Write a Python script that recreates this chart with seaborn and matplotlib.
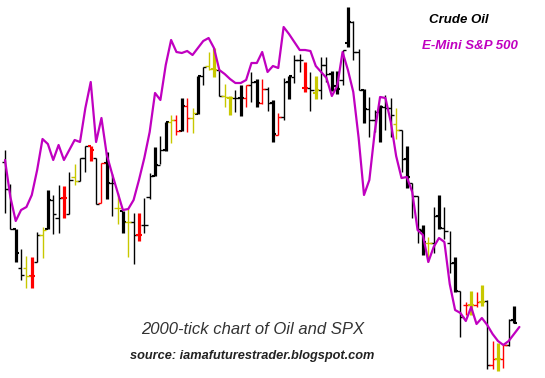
import numpy as np
import pandas as pd
import matplotlib
matplotlib.use("Agg")
import matplotlib.pyplot as plt
import seaborn as sns

# crude oil 2000-tick bars (chart level units, higher = up)
oil_high = [230, 196, 151, 131, 124, 123, 148, 153, 190, 185,
            195, 194, 208, 216, 222, 234, 234, 222, 217, 228,
            206, 187, 169, 171, 167, 167, 182, 207, 233, 244,
            258, 265, 265, 282, 282, 272, 304, 313, 328, 332,
            310, 296, 284, 290, 295, 295, 308, 301, 301, 293,
            280, 267, 302, 304, 325, 326, 318, 308, 304, 323,
            323, 309, 309, 330, 373, 359, 331, 291, 283, 270,
            275, 285, 282, 272, 250, 234, 197, 184, 155, 143,
            173, 185, 173, 149, 123, 89, 78, 89, 88, 95,
            80, 39, 37, 35, 61, 74]
oil_low = [167, 151, 118, 100, 92, 92, 118, 122, 151, 146,
           147, 162, 166, 195, 199, 208, 219, 176, 177, 181,
           164, 156, 147, 123, 116, 139, 147, 181, 204, 216,
           229, 237, 245, 249, 248, 247, 266, 295, 310, 303,
           284, 273, 265, 268, 264, 273, 278, 273, 276, 269,
           238, 245, 260, 281, 297, 308, 288, 269, 281, 281,
           298, 289, 286, 295, 333, 320, 290, 257, 243, 248,
           238, 250, 243, 241, 208, 192, 162, 137, 125, 118,
           127, 151, 141, 107, 88, 43, 65, 65, 73, 74,
           11, 11, 9, 12, 34, 57]
oil_open = [218, 191, 151, 112, 112, 104, 118, 145, 151, 180,
            162, 182, 166, 203, 199, 222, 234, 222, 177, 217,
            197, 172, 169, 158, 158, 145, 155, 183, 204, 215,
            230, 258, 260, 249, 274, 262, 266, 304, 314, 311,
            310, 284, 282, 282, 282, 282, 295, 298, 277, 291,
            277, 245, 263, 298, 303, 320, 292, 292, 287, 290,
            315, 306, 294, 300, 337, 358, 328, 290, 271, 260,
            268, 273, 272, 256, 250, 221, 197, 184, 149, 137,
            137, 164, 152, 137, 117, 89, 75, 75, 75, 78,
            79, 15, 21, 21, 35, 60]
oil_close = [191, 151, 127, 105, 104, 104, 145, 150, 180, 166,
             182, 182, 200, 199, 222, 234, 230, 176, 217, 197,
             197, 172, 158, 158, 145, 145, 155, 204, 215, 230,
             258, 260, 249, 274, 262, 267, 304, 313, 311, 310,
             284, 283, 282, 282, 282, 295, 298, 277, 291, 277,
             246, 263, 298, 304, 320, 320, 292, 290, 290, 315,
             306, 294, 291, 330, 358, 328, 290, 271, 260, 268,
             273, 272, 265, 250, 221, 203, 184, 151, 138, 137,
             164, 152, 149, 117, 89, 63, 75, 75, 78, 78,
             15, 21, 21, 35, 60, 57]
oil_colour = list("KKKKYRKYKK" "KRKYKKRKRK" "KYKYKRKKKK" "KYRKRYKKYY"
                  "KYYKKRKKRK" "KRKKKKRKYK" "KKKKKKKKKK" "KKKYKKKKKY"
                  "KKKKKKRYRY" "KRYRKK")
oil_heavy = [0, 0, 1, 0, 0, 1, 0, 0, 1, 0,
             0, 1, 0, 0, 0, 0, 1, 0, 0, 1,
             0, 0, 1, 0, 0, 1, 0, 0, 1, 0,
             1, 0, 0, 1, 0, 0, 1, 0, 0, 1,
             0, 0, 1, 0, 1, 0, 0, 1, 0, 0,
             1, 0, 0, 1, 0, 0, 1, 0, 1, 0,
             0, 1, 1, 0, 1, 0, 0, 1, 0, 0,
             1, 0, 0, 0, 0, 1, 0, 0, 1, 0,
             0, 1, 0, 0, 1, 0, 0, 1, 0, 1,
             0, 0, 1, 0, 0, 1]

# e-mini s&p 500, same bar clock
spx = [220, 183, 159, 170, 173, 185, 210, 241, 236, 220,
       235, 220, 230, 240, 238, 272, 298, 238, 262, 225,
       206, 188, 170, 171, 180, 200, 222, 248, 287, 280,
       315, 340, 328, 327, 329, 325, 332, 339, 342, 332,
       310, 306, 301, 297, 297, 300, 317, 317, 328, 308,
       314, 312, 353, 346, 338, 330, 330, 329, 314, 308,
       302, 284, 294, 328, 310, 288, 242, 185, 200, 248,
       283, 282, 258, 224, 202, 203, 188, 150, 145, 118,
       133, 142, 138, 96, 70, 67, 59, 73, 56, 62,
       55, 46, 39, 35, 39, 46, 53]

palette = {"K": "#000000", "Y": "#c8c800", "R": "#ff0000"}

bars = pd.DataFrame({"high": oil_high, "low": oil_low, "open": oil_open,
                     "close": oil_close, "colour": oil_colour, "heavy": oil_heavy})
bars["bar"] = np.arange(len(bars))
sp = pd.DataFrame({"bar": np.arange(len(spx)), "spx": spx})

sns.set_theme(style="white")
fig = plt.figure(figsize=(5.45, 3.78), dpi=100)
ax = fig.add_axes([0, 0, 1, 1])

tick = 0.6
for (c, h), grp in bars.groupby(["colour", "heavy"]):
    lw = 2.3 if h else 1.0
    tw = 1.5 if h else 1.0
    ax.vlines(grp["bar"], grp["low"], grp["high"], color=palette[c], lw=lw)
    ax.hlines(grp["open"], grp["bar"] - tick, grp["bar"], color=palette[c], lw=tw)
    ax.hlines(grp["close"], grp["bar"], grp["bar"] + tick, color=palette[c], lw=tw)

sns.lineplot(data=sp, x="bar", y="spx", ax=ax, color="#c000c0", lw=1.6)

ax.set_xlim(-0.933, 100.78)
ax.set_ylim(2, 380)
ax.set_axis_off()

font = "Liberation Sans"
fig.text(459 / 545, 1 - 20 / 378, "Crude Oil", ha="center", va="center",
         fontsize=9.5, fontweight="bold", fontstyle="italic", family=font, color="black")
fig.text(470 / 545, 1 - 46 / 378, "E-Mini S&P 500", ha="center", va="center",
         fontsize=9.5, fontweight="bold", fontstyle="italic", family=font, color="#c000c0")
fig.text(253 / 545, 1 - 330 / 378, "2000-tick chart of Oil and SPX", ha="center", va="center",
         fontsize=12, fontstyle="italic", family=font, color="#333333")
fig.text(252 / 545, 1 - 356 / 378, "source: iamafuturestrader.blogspot.com", ha="center", va="center",
         fontsize=9.2, fontweight="bold", fontstyle="italic", family=font, color="#222222")

fig.savefig("out.png", dpi=100, facecolor="white")
